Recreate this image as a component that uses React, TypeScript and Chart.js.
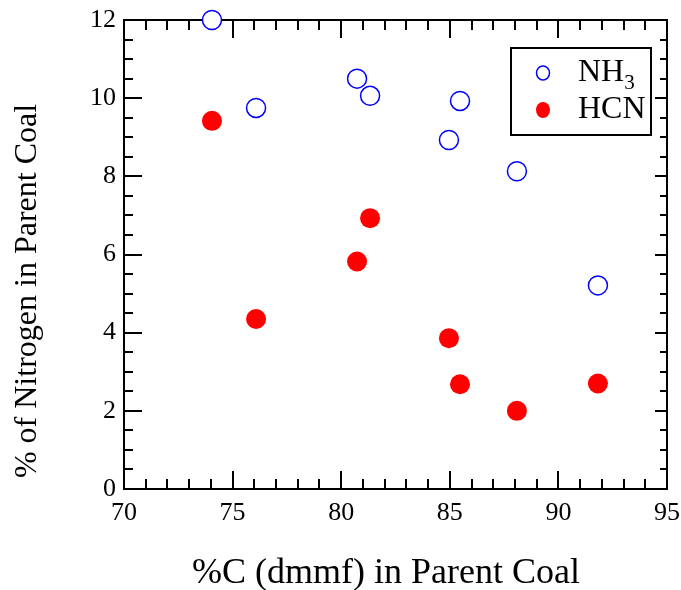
import React, { useEffect, useRef } from "react";
import { Chart, registerables } from "chart.js";
Chart.register(...registerables);

const carbonPct = [74.05, 76.08, 80.73, 81.33, 84.96, 85.47, 88.09, 91.82];
const nh3Values = [12.0, 9.75, 10.5, 10.06, 8.93, 9.93, 8.13, 5.21];
const hcnValues = [9.42, 4.35, 5.82, 6.93, 3.86, 2.68, 2.0, 2.7];
const xTickValues = [70, 75, 80, 85, 90, 95];
const yTickValues = [0, 2, 4, 6, 8, 10, 12];
const seriesNames = ["NH", "HCN"];
const xTitle = "%C (dmmf) in Parent Coal";
const yTitle = "% of Nitrogen in Parent Coal";

const FONT = "'Liberation Serif', 'Times New Roman', serif";

const framePlugin = {
  id: "frame",
  beforeDatasetsDraw(chart: any) {
    const { ctx, chartArea } = chart;
    const { left, right, top, bottom } = chartArea;
    const xs = chart.scales.x;
    const ys = chart.scales.y;
    ctx.save();
    ctx.strokeStyle = "#000";
    ctx.lineWidth = 2;
    ctx.strokeRect(left, top, right - left, bottom - top);
    ctx.beginPath();
    for (let v = 70; v <= 95; v += 1) {
      const px = Math.round(xs.getPixelForValue(v));
      const major = v % 5 === 0;
      const len = major ? 18 : 10;
      ctx.moveTo(px, bottom);
      ctx.lineTo(px, bottom - len);
      ctx.moveTo(px, top);
      ctx.lineTo(px, top + len);
    }
    for (let i = 0; i <= 24; i++) {
      const v = i * 0.5;
      const py = Math.round(ys.getPixelForValue(v));
      const major = i % 4 === 0;
      ctx.moveTo(left, py);
      ctx.lineTo(left + (major ? 18 : 9), py);
      ctx.moveTo(right, py);
      ctx.lineTo(right - (major ? 12 : 7), py);
    }
    ctx.stroke();
    ctx.restore();
  },
  afterDraw(chart: any) {
    const { ctx } = chart;
    ctx.save();
    ctx.fillStyle = "#000";
    ctx.font = `36px ${FONT}`;
    ctx.textAlign = "center";
    ctx.textBaseline = "alphabetic";
    ctx.fillText(xTitle, 386, 583);
    ctx.save();
    ctx.translate(36, 291);
    ctx.rotate(-Math.PI / 2);
    ctx.font = `32px ${FONT}`;
    ctx.fillText(yTitle, 0, 0);
    ctx.restore();

    // legend
    ctx.lineWidth = 2;
    ctx.strokeStyle = "#000";
    ctx.strokeRect(511, 48, 140, 87);
    ctx.beginPath();
    ctx.ellipse(543, 73, 6.5, 7, 0, 0, Math.PI * 2);
    ctx.fillStyle = "#fff";
    ctx.fill();
    ctx.lineWidth = 1.5;
    ctx.strokeStyle = "#0000ff";
    ctx.stroke();
    ctx.beginPath();
    ctx.ellipse(543, 110, 7, 8, 0, 0, Math.PI * 2);
    ctx.fillStyle = "#ff0000";
    ctx.fill();
    ctx.fillStyle = "#000";
    ctx.textAlign = "left";
    ctx.font = `32px ${FONT}`;
    ctx.fillText(seriesNames[0], 578, 81);
    const w = ctx.measureText(seriesNames[0]).width;
    ctx.font = `21px ${FONT}`;
    ctx.fillText("3", 578 + w, 89);
    ctx.font = `32px ${FONT}`;
    ctx.fillText(seriesNames[1], 578, 118);
    ctx.restore();
  },
};

export default function App() {
  const ref = useRef<HTMLCanvasElement>(null);
  useEffect(() => {
    if (!ref.current) return;
    const chart = new Chart(ref.current, {
      type: "scatter",
      data: {
        datasets: [
          {
            label: "NH3",
            data: carbonPct.map((x, i) => ({ x, y: nh3Values[i] })),
            pointRadius: 9.5,
            pointBorderWidth: 1.5,
            borderColor: "#0000ff",
            backgroundColor: "#ffffff",
            pointBackgroundColor: "#ffffff",
            pointBorderColor: "#0000ff",
            clip: false as any,
          },
          {
            label: "HCN",
            data: carbonPct.map((x, i) => ({ x, y: hcnValues[i] })),
            pointRadius: 10,
            pointBorderWidth: 0,
            borderColor: "#ff0000",
            backgroundColor: "#ff0000",
            pointBackgroundColor: "#ff0000",
            pointBorderColor: "#ff0000",
            clip: false as any,
          },
        ],
      },
      options: {
        responsive: false,
        animation: false,
        layout: { padding: { top: 20, right: 14, left: 0, bottom: 0 } },
        plugins: { legend: { display: false }, tooltip: { enabled: false } },
        scales: {
          x: {
            type: "linear",
            min: 70,
            max: 95,
            afterFit: (s: any) => {
              s.height = 101;
              s.paddingLeft = 0;
              s.paddingRight = 0;
            },
            afterBuildTicks: (s: any) => {
              s.ticks = xTickValues.map((v) => ({ value: v }));
            },
            grid: { display: false, drawTicks: false },
            border: { display: false },
            ticks: {
              color: "#000",
              padding: 9,
              maxRotation: 0,
              font: { family: FONT, size: 26 },
            },
          },
          y: {
            type: "linear",
            min: 0,
            max: 12,
            afterFit: (s: any) => {
              s.width = 124;
              s.paddingTop = 0;
              s.paddingBottom = 0;
            },
            afterBuildTicks: (s: any) => {
              s.ticks = yTickValues.map((v) => ({ value: v }));
            },
            grid: { display: false, drawTicks: false },
            border: { display: false },
            ticks: {
              color: "#000",
              padding: 8,
              font: { family: FONT, size: 26 },
            },
          },
        },
      },
      plugins: [framePlugin],
    });
    return () => chart.destroy();
  }, []);
  return (
    <div style={{ position: "absolute", left: 0, top: 0, width: 681, height: 590, background: "#fff" }}>
      <canvas ref={ref} width={681} height={590} />
    </div>
  );
}
